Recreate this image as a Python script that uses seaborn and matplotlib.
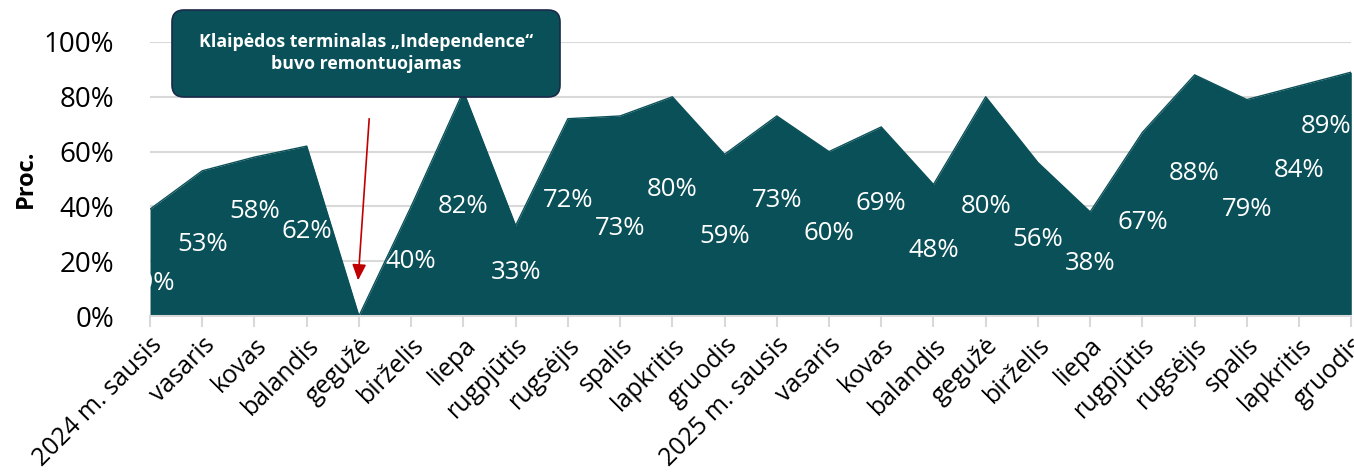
import numpy as np
import pandas as pd
import seaborn as sns
import matplotlib.pyplot as plt
from matplotlib.patches import FancyBboxPatch

# duomenys
months = ["2024 m. sausis", "vasaris", "kovas", "balandis", "gegužė", "birželis",
          "liepa", "rugpjūtis", "rugsėjis", "spalis", "lapkritis", "gruodis",
          "2025 m. sausis", "vasaris", "kovas", "balandis", "gegužė", "birželis",
          "liepa", "rugpjūtis", "rugsėjis", "spalis", "lapkritis", "gruodis"]
values = [39, 53, 58, 62, 0, 40, 82, 33, 72, 73, 80, 59,
          73, 60, 69, 48, 80, 56, 38, 67, 88, 79, 84, 89]
label_height = [12, 26, 38, 31, 0, 20, 40, 16, 42, 32, 46, 29,
                42, 30, 41, 24, 40, 28, 19, 34, 52, 39, 53, 69]
note_text = "Klaipėdos terminalas „Independence“\nbuvo remontuojamas"

df = pd.DataFrame({"idx": np.arange(len(months)), "val": values})
teal = "#0a5058"

sns.set_theme(style="whitegrid")
plt.rcParams["font.family"] = ["Open Sans", "DejaVu Sans"]

fig = plt.figure(figsize=(13.54, 4.75), dpi=100)
ax = fig.add_axes([0.1108, 0.3347, 0.8872, 0.5769])

sns.lineplot(data=df, x="idx", y="val", color=teal, linewidth=1, ax=ax)
ax.fill_between(df["idx"], 0, df["val"], color=teal, linewidth=0)

for i, (v, h) in enumerate(zip(values, label_height)):
    if v == 0:
        continue
    ha = "right" if i == len(values) - 1 else "center"
    ax.text(i, h, f"{v}%", color="white", fontsize=18.5, ha=ha, va="center",
            clip_on=True)

ax.set_xlim(0, len(months) - 1)
ax.set_ylim(0, 100)
ax.set_yticks([0, 20, 40, 60, 80, 100])
ax.set_yticklabels([f"{t}%" for t in [0, 20, 40, 60, 80, 100]], fontsize=20,
                   color="black")
ax.set_xticks(df["idx"])
ax.set_xticklabels(months, rotation=45, ha="right", rotation_mode="anchor",
                   fontsize=18, color="black")
ax.tick_params(axis="x", which="both", length=8, width=1.5, color="#d9d9d9",
               bottom=True, pad=4, direction="out")
ax.tick_params(axis="y", length=0, pad=26)
ax.grid(axis="x", visible=False)
ax.grid(axis="y", color="#d9d9d9", linewidth=1.5)
ax.set_axisbelow(True)
for s in ["top", "right", "left"]:
    ax.spines[s].set_visible(False)
ax.spines["bottom"].set_color("#d9d9d9")
ax.spines["bottom"].set_linewidth(1.5)
ax.set_xlabel("")
ax.set_ylabel("Proc.", fontsize=17, fontweight="bold", labelpad=4,
              color="black")

# pastaba
box = FancyBboxPatch((1.72, 3.78), 3.88, 0.87,
                     boxstyle="round,pad=0,rounding_size=0.12",
                     transform=fig.dpi_scale_trans, facecolor=teal,
                     edgecolor="#1b2a4a", linewidth=1.2, zorder=5)
fig.patches.append(box)
fig.text(3.66 / 13.54, 1 - 53 / 475, note_text, color="white", fontsize=12.8,
         fontweight="bold", ha="center", va="center", linespacing=1.25,
         zorder=6)

ax.annotate("", xy=(3.98, 12), xytext=(4.2, 73),
            arrowprops=dict(arrowstyle="-|>,head_width=0.35,head_length=0.8",
                            color="#c00000", lw=1.2))

fig.savefig("out.png", dpi=100)
